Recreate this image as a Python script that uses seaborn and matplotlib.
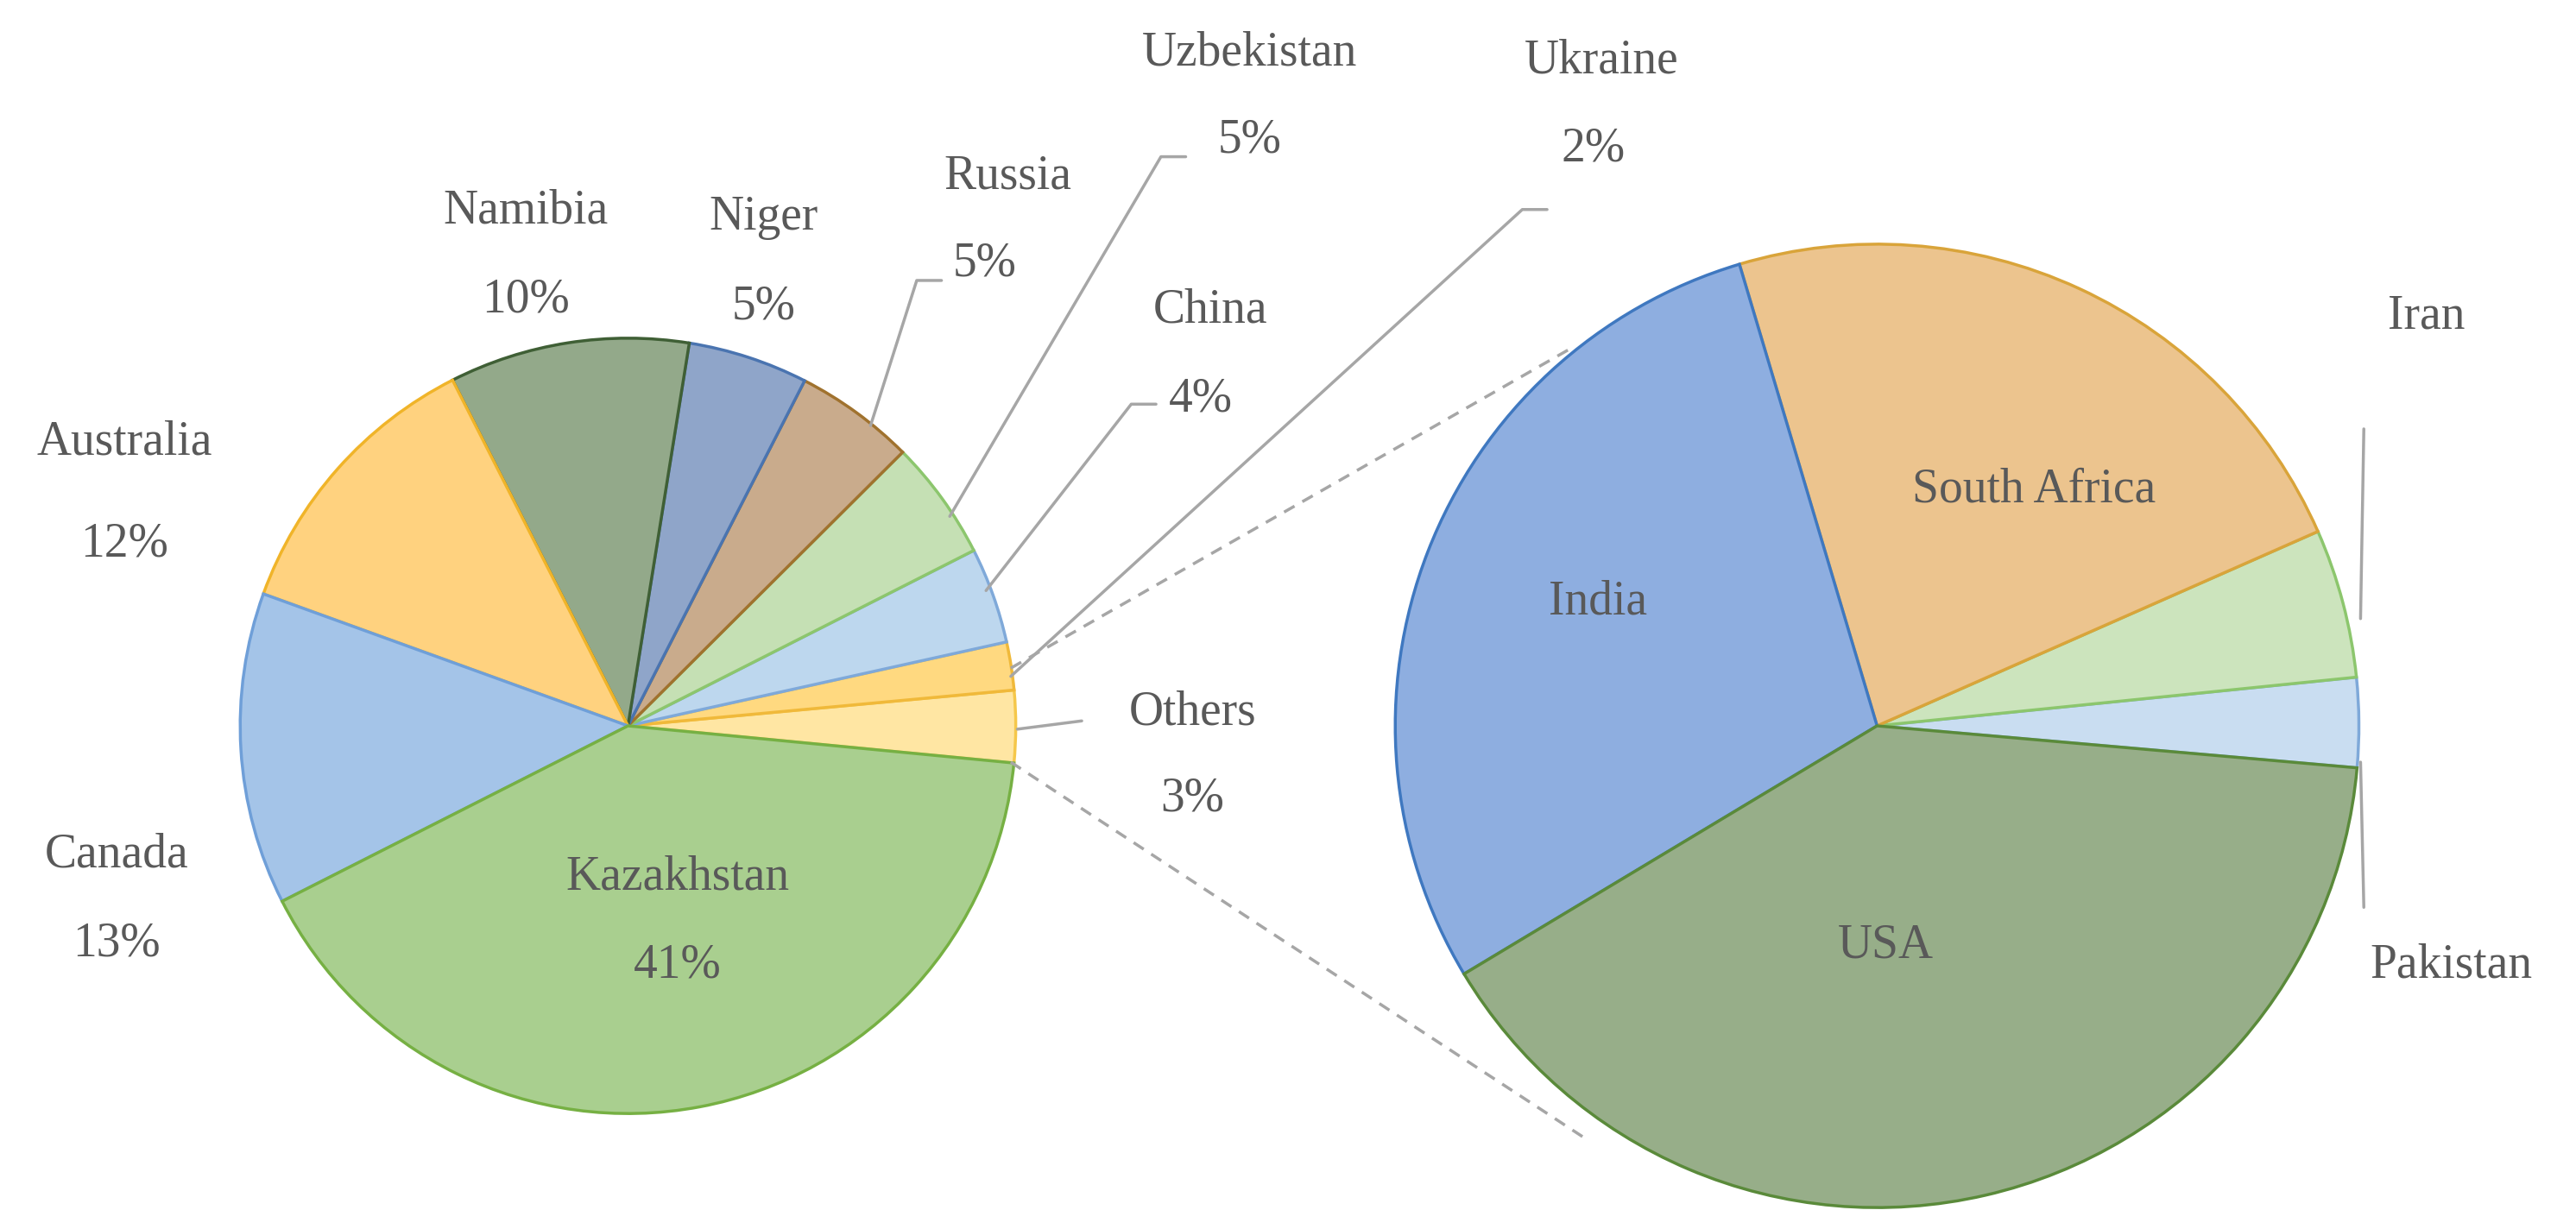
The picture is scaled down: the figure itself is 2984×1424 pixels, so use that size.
import matplotlib
matplotlib.use("Agg")
import matplotlib.pyplot as plt
import seaborn as sns

sns.set_theme(style="white")
plt.rcParams['font.family'] = ['Liberation Serif', 'DejaVu Serif']

# Left pie data (counter-clockwise from "Others")
left_labels = ["Others", "Ukraine", "China", "Uzbekistan", "Russia", "Niger",
               "Namibia", "Australia", "Canada", "Kazakhstan"]
left_values = [3, 2, 4, 5, 5, 5, 10, 12, 13, 41]
left_colors = ["#ffe6a3", "#ffd980", "#bdd7ee", "#c5e0b4", "#c9ab8c", "#8fa5c9",
               "#93a98a", "#ffd27f", "#a4c4e8", "#a9cf8f"]
left_edges = ["#f5c74a", "#f0b93a", "#7fa9d9", "#8cc66d", "#a0722e", "#4a74b0",
              "#3f5f35", "#f0b429", "#6f9fd8", "#76b043"]

# Right pie data (breakdown of "Others")
right_labels = ["Pakistan", "Iran", "South Africa", "India", "USA"]
right_values = [3, 5, 23, 29, 40]
right_colors = ["#c9ddf1", "#cce4bd", "#ecc48e", "#8eaee0", "#97ae89"]
right_edges = ["#7fa9d9", "#8cc66d", "#d9a43a", "#3f78c0", "#5a8a3a"]

W, H = 1560, 745
fig = plt.figure(figsize=(29.84, 14.24), dpi=100)
ax = fig.add_axes([0, 0, 1, 1])
ax.set_xlim(0, W)
ax.set_ylim(H, 0)
ax.set_aspect("equal")
ax.axis("off")

def draw_pie(values, colors, edges, center, radius, start):
    wedges, _ = ax.pie(values, colors=colors, center=center, radius=radius,
                       startangle=start, counterclock=False, frame=True,
                       wedgeprops=dict(linewidth=2.5))
    for w, e in zip(wedges, edges):
        w.set_edgecolor(e)
    return wedges

# y axis inverted: clockwise in data == counter-clockwise on screen
draw_pie(left_values, left_colors, left_edges, (380, 440), 235, 5.5)
draw_pie(right_values, right_colors, right_edges, (1137, 440), 292, 5)
ax.set_xlim(0, W)
ax.set_ylim(H, 0)
ax.axis("off")

tc = "#595959"
fs = 40
def txt(x, y, s):
    ax.text(x, y, s, ha="center", va="center", fontsize=fs, color=tc)

txt(410, 532, "Kazakhstan"); txt(410, 585, "41%")
txt(70, 518, "Canada"); txt(70, 572, "13%")
txt(75, 268, "Australia"); txt(75, 330, "12%")
txt(318, 128, "Namibia"); txt(318, 182, "10%")
txt(462, 132, "Niger"); txt(462, 186, "5%")
txt(610, 107, "Russia"); txt(596, 160, "5%")
txt(757, 32, "Uzbekistan"); txt(757, 85, "5%")
txt(733, 188, "China"); txt(727, 242, "4%")
txt(970, 37, "Ukraine"); txt(965, 90, "2%")
txt(722, 432, "Others"); txt(722, 484, "3%")
txt(968, 365, "India"); txt(1232, 297, "South Africa"); txt(1142, 573, "USA")
txt(1470, 192, "Iran"); txt(1485, 585, "Pakistan")

lc = "#a6a6a6"
def line(xs, ys, **kw):
    ax.plot(xs, ys, color=lc, lw=2.5, **kw)

line([527, 555, 570], [258, 170, 170])
line([575, 703, 718], [313, 95, 95])
line([597, 685, 700], [358, 245, 245])
line([612, 922, 937], [410, 127, 127])
line([616, 655], [442, 437])
line([1430, 1432], [375, 260])
line([1430, 1432], [462, 550])
line([612, 950], [405, 212], ls=(0, (4, 3)))
line([612, 462 * 0 + 960], [462, 690], ls=(0, (4, 3)))

fig.savefig("out.png", dpi=100)
